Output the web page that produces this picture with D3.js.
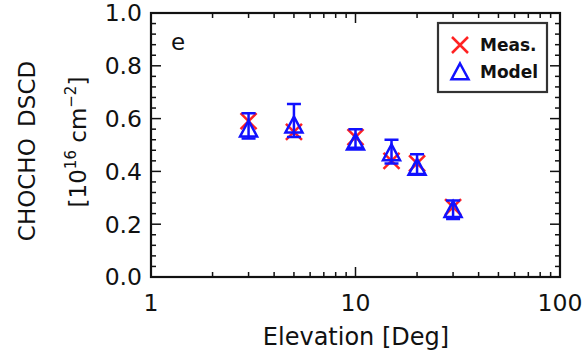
<!DOCTYPE html>
<html><head><meta charset="utf-8">
<script src="https://cdn.jsdelivr.net/npm/d3@7"></script>
<style>body{margin:0;background:#fff}svg{display:block}text{font-family:"DejaVu Sans",sans-serif;fill:#111}</style>
</head><body>
<script>
const elevation = [3, 5, 10, 15, 20, 30];
const measured = [0.59, 0.55, 0.53, 0.44, 0.43, 0.265];
const model = [0.56, 0.575, 0.51, 0.47, 0.415, 0.255];
const errLow = [0.525, 0.53, 0.49, 0.43, 0.39, 0.22];
const errHigh = [0.62, 0.655, 0.56, 0.52, 0.465, 0.29];
const yTicks = [0, 0.2, 0.4, 0.6, 0.8, 1.0];
const xTicks = [1, 10, 100];
const legendLabels = ["Meas.", "Model"];

const W = 585, H = 351;
const L = 151, R = 560, T = 13, B = 277;
const svg = d3.select("body").append("svg").attr("width", W).attr("height", H);
const x = d3.scaleLog().domain([1, 100]).range([L, R]);
const y = d3.scaleLinear().domain([0, 1]).range([B, T]);

const g = svg.append("g");
const xMinor = [];
for (const d of [1, 10]) for (let k = 2; k <= 9; k++) xMinor.push(d * k);
const yMinor = d3.range(0, 1.0001, 0.04).filter(v => !yTicks.some(t => Math.abs(t - v) < 1e-6));
const tk = g.append("g").attr("stroke", "#111").attr("stroke-width", 1.5);
xMinor.forEach(v => {
  tk.append("line").attr("x1", x(v)).attr("x2", x(v)).attr("y1", B).attr("y2", B - 5);
  tk.append("line").attr("x1", x(v)).attr("x2", x(v)).attr("y1", T).attr("y2", T + 5);
});
[10].forEach(v => {
  tk.append("line").attr("x1", x(v)).attr("x2", x(v)).attr("y1", B).attr("y2", B - 10);
  tk.append("line").attr("x1", x(v)).attr("x2", x(v)).attr("y1", T).attr("y2", T + 10);
});
yMinor.forEach(v => {
  tk.append("line").attr("x1", L).attr("x2", L + 5).attr("y1", y(v)).attr("y2", y(v));
  tk.append("line").attr("x1", R).attr("x2", R - 5).attr("y1", y(v)).attr("y2", y(v));
});
yTicks.forEach(v => {
  tk.append("line").attr("x1", L).attr("x2", L + 10).attr("y1", y(v)).attr("y2", y(v));
  tk.append("line").attr("x1", R).attr("x2", R - 10).attr("y1", y(v)).attr("y2", y(v));
});
g.append("rect").attr("x", L).attr("y", T).attr("width", R - L).attr("height", B - T)
  .attr("fill", "none").attr("stroke", "#111").attr("stroke-width", 2.2);

g.selectAll(".yl").data(yTicks).enter().append("text")
  .attr("x", L - 9).attr("y", d => y(d)).attr("dy", "0.36em")
  .attr("text-anchor", "end").attr("font-size", 23.5).text(d => d.toFixed(1));
g.selectAll(".xl").data(xTicks).enter().append("text")
  .attr("x", d => x(d)).attr("y", 311).attr("text-anchor", "middle")
  .attr("font-size", 23.5).text(d => d);

g.append("text").attr("x", 356).attr("y", 345).attr("text-anchor", "middle")
  .attr("font-size", 24).text("Elevation [Deg]");
g.append("text").attr("transform", "translate(35,151) rotate(-90)")
  .attr("text-anchor", "middle").attr("font-size", 23).attr("word-spacing", 4).text("CHOCHO DSCD");
const t2 = g.append("text").attr("transform", "translate(86,142) rotate(-90)")
  .attr("text-anchor", "middle").attr("font-size", 23);
t2.append("tspan").text("[10");
t2.append("tspan").attr("font-size", 15).attr("dy", -10).text("16");
t2.append("tspan").attr("dy", 10).text(" cm");
t2.append("tspan").attr("font-size", 15).attr("dy", -10).text("−2");
t2.append("tspan").attr("dy", 10).text("]");

g.append("text").attr("x", 171).attr("y", 50).attr("font-size", 23).text("e");

function cross(sel, cx, cy, s) {
  sel.append("path").attr("d", `M${cx - s},${cy - s}L${cx + s},${cy + s}M${cx - s},${cy + s}L${cx + s},${cy - s}`)
    .attr("stroke", "#f22").attr("stroke-width", 2.5).attr("fill", "none");
}
function tri(sel, cx, cy, s) {
  sel.append("path").attr("d", `M${cx},${cy - s}L${cx + s},${cy + s * 0.85}L${cx - s},${cy + s * 0.85}Z`)
    .attr("stroke", "#11f").attr("stroke-width", 2.5).attr("fill", "none");
}
const marks = g.append("g");
elevation.forEach((e, i) => cross(marks, x(e), y(measured[i]), 8));
elevation.forEach((e, i) => {
  const cx = x(e);
  marks.append("path").attr("d",
    `M${cx},${y(errLow[i])}L${cx},${y(errHigh[i])}M${cx - 7},${y(errLow[i])}L${cx + 7},${y(errLow[i])}M${cx - 7},${y(errHigh[i])}L${cx + 7},${y(errHigh[i])}`)
    .attr("stroke", "#11f").attr("stroke-width", 2.5).attr("fill", "none");
  tri(marks, cx, y(model[i]), 8.5);
});

g.append("rect").attr("x", 438).attr("y", 23).attr("width", 109).attr("height", 69)
  .attr("fill", "#fff").attr("stroke", "#333").attr("stroke-width", 2.2);
cross(g, 460, 45, 8);
tri(g, 460, 72, 8.5);
legendLabels.forEach((lab, i) => {
  g.append("text").attr("x", 480).attr("y", 45 + i * 27).attr("dy", "0.36em")
    .attr("font-size", 17).attr("font-weight", "bold").text(lab);
});
</script>
</body></html>
